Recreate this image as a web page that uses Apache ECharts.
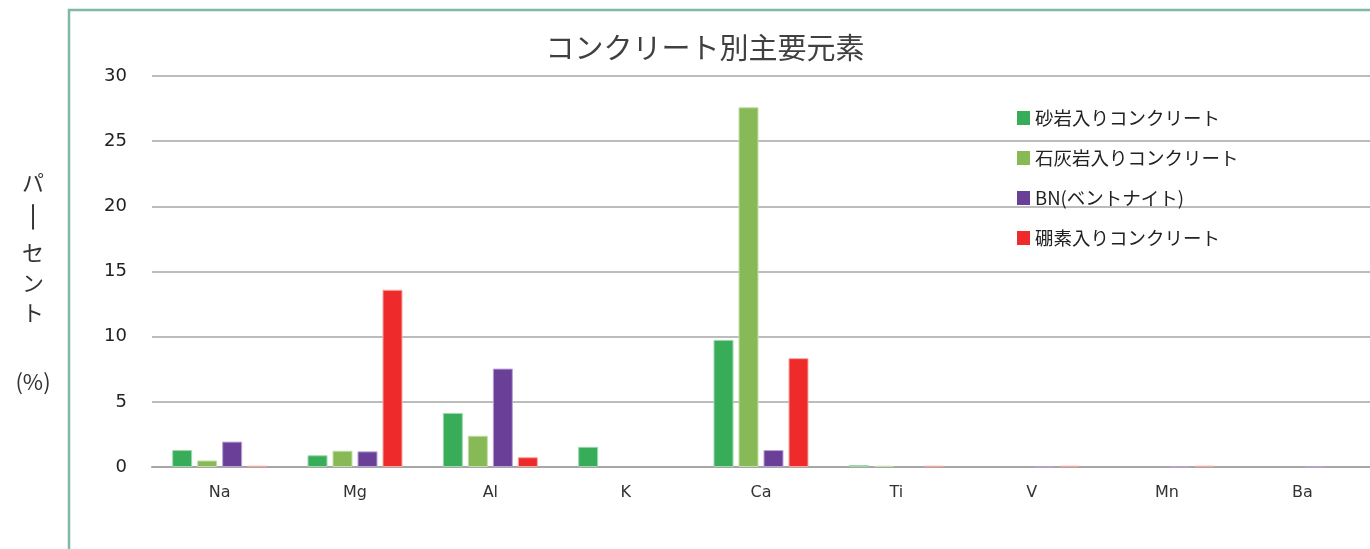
<!DOCTYPE html>
<html>
<head>
<meta charset="utf-8">
<script src="https://cdn.jsdelivr.net/npm/echarts@6/dist/echarts.min.js"></script>
<style>
html,body{margin:0;padding:0;background:#fff;}
#chart{width:1370px;height:549px;}
</style>
</head>
<body>
<div id="chart"></div>
<script>
const titleText = 'コンクリート別主要元素';
const categories = ['Na', 'Mg', 'Al', 'K', 'Ca', 'Ti', 'V', 'Mn', 'Ba'];
const seriesNames = ['砂岩入りコンクリート', '石灰岩入りコンクリート', 'BN(ベントナイト)', '硼素入りコンクリート'];
const sandstone = [1.3, 0.9, 4.15, 1.55, 9.75, 0.15, 0, 0, 0];
const limestone = [0.5, 1.25, 2.4, 0, 27.6, 0.1, 0, 0, 0];
const bentonite = [1.95, 1.2, 7.55, 0, 1.3, 0, 0.02, 0.02, 0.03];
const boron = [0.1, 13.6, 0.75, 0, 8.35, 0.1, 0.1, 0.1, 0];
const yTicks = [0, 5, 10, 15, 20, 25, 30];
const yLabelChars = ['パ', 'ー', 'セ', 'ン', 'ト', '(%)'];

const colors = ['#37ad5a', '#87b957', '#6a3f98', '#ee2a2a'];
const borders = ['#9fd8ad', '#c4dfa8', '#b8a3d4', '#f7a7a0'];
const dataSets = [sandstone, limestone, bentonite, boron];

const jpFont = '"Noto Sans CJK JP", "Noto Sans", sans-serif';
const numFont = '"DejaVu Sans", "Open Sans", sans-serif';

const yLabelPos = [183, 217, 253, 283, 313, 382];
const yLabelGraphics = yLabelChars.map((c, i) => ({
  type: 'text',
  x: 33,
  y: yLabelPos[i],
  rotation: c === 'ー' ? -Math.PI / 2 : 0,
  scaleX: c === 'ー' ? 1.45 : 1,
  style: {
    text: c,
    fontSize: 22,
    fontFamily: jpFont,
    fill: '#333',
    align: 'center',
    verticalAlign: 'middle'
  }
}));

const chart = echarts.init(document.getElementById('chart'));
chart.setOption({
  animation: false,
  title: {
    text: titleText,
    left: 700,
    textAlign: 'center',
    top: 28,
    textStyle: { fontSize: 29, fontWeight: 'normal', color: '#404040', fontFamily: jpFont }
  },
  legend: {
    orient: 'vertical',
    left: 1012,
    top: 103,
    itemWidth: 13,
    itemHeight: 14,
    itemGap: 20,
    icon: 'rect',
    data: seriesNames,
    itemStyle: { borderWidth: 0 },
    textStyle: { fontSize: 18.5, color: '#222', fontFamily: jpFont, lineHeight: 20 }
  },
  grid: { left: 152, right: 0, top: 76, bottom: 82, containLabel: false },
  xAxis: {
    type: 'category',
    data: categories,
    axisLine: { show: true, lineStyle: { color: '#a6a6a6', width: 2 } },
    axisTick: { show: false },
    axisLabel: { fontSize: 16, color: '#333', fontFamily: numFont, margin: 18 }
  },
  yAxis: {
    type: 'value',
    min: yTicks[0],
    max: yTicks[yTicks.length - 1],
    interval: 5,
    axisLine: { show: false },
    axisTick: { show: false },
    axisLabel: { fontSize: 18, color: '#222', fontFamily: numFont, margin: 25 },
    splitLine: { lineStyle: { color: '#a6a6a6', width: 1.5 } }
  },
  series: seriesNames.map((name, i) => ({
    name: name,
    type: 'bar',
    data: dataSets[i].map(v => ({ value: v, itemStyle: { borderWidth: v > 0 ? 1 : 0 } })),
    barWidth: 20,
    barGap: '25%',
    itemStyle: { color: colors[i], borderColor: borders[i], borderWidth: 1 }
  })),
  graphic: [
    {
      type: 'polyline',
      shape: { points: [[69, 549], [69, 10], [1370, 10]] },
      style: { stroke: '#7fb9a5', lineWidth: 2.5, fill: null }
    }
  ].concat(yLabelGraphics)
});
</script>
</body>
</html>
